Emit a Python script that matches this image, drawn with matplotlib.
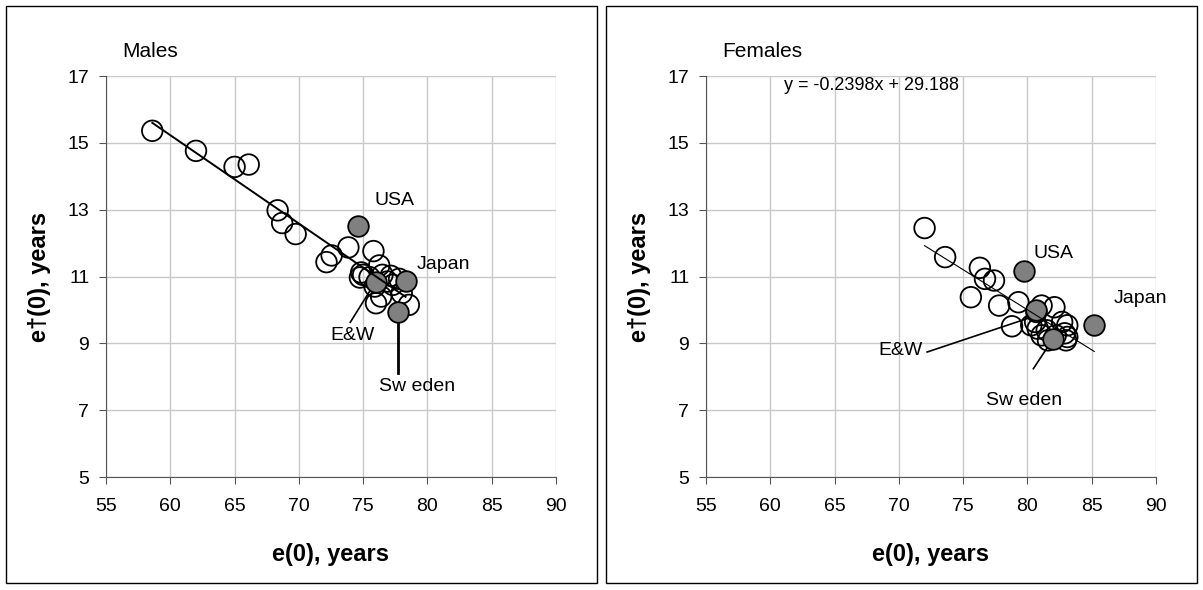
import matplotlib.pyplot as plt
import matplotlib.patches as patches
import numpy as np

plt.rcParams['font.family'] = ['Liberation Sans', 'DejaVu Sans']

# males: e(0) and e-dagger(0)
male_e0 = [58.6, 62.0, 65.0, 66.1, 68.35, 68.7, 69.75, 72.15, 72.55, 73.85,
           75.8, 76.25, 74.85, 74.75, 75.0, 75.5, 76.5, 77.15, 77.8, 77.3,
           75.9, 76.0, 76.4, 78.55, 78.0, 76.9]
male_ed = [15.36, 14.76, 14.28, 14.35, 12.98, 12.6, 12.27, 11.43, 11.63, 11.87,
           11.76, 11.33, 11.12, 10.97, 11.05, 10.98, 11.05, 11.02, 10.93, 10.75,
           10.7, 10.2, 10.4, 10.15, 10.5, 10.85]
male_hl_names = ['USA', 'Japan', 'E&W', 'Sweden']
male_hl_e0 = [74.6, 78.35, 76.0, 77.75]
male_hl_ed = [12.5, 10.88, 10.83, 9.95]

# females
female_e0 = [72.0, 73.6, 76.3, 76.7, 77.4, 75.6, 77.8, 79.3, 78.8, 81.1,
             82.1, 80.6, 80.3, 80.8, 81.5, 82.7, 83.1, 83.1, 83.0, 81.6,
             82.2, 81.1, 80.7, 82.9]
female_ed = [12.45, 11.58, 11.26, 10.93, 10.88, 10.38, 10.13, 10.23, 9.51, 10.13,
             10.08, 9.64, 9.54, 9.44, 9.39, 9.64, 9.54, 9.19, 9.09, 9.09,
             9.24, 9.24, 9.94, 9.3]
female_hl_names = ['USA', 'Japan', 'E&W', 'Sweden']
female_hl_e0 = [79.7, 85.2, 80.7, 82.0]
female_hl_ed = [11.15, 9.54, 9.99, 9.14]
female_slope, female_icpt = -0.2398, 29.188

xticks = [55, 60, 65, 70, 75, 80, 85, 90]
yticks = [5, 7, 9, 11, 13, 15, 17]

fig = plt.figure(figsize=(12.03, 5.9), dpi=100)

# panel frames
for x0 in [6, 606]:
    fig.patches.append(patches.Rectangle((x0 / 1203, 7 / 590), 591 / 1203, 577 / 590,
                                         transform=fig.transFigure, fill=False,
                                         edgecolor='black', linewidth=1))

ax1 = fig.add_axes([106 / 1203, 1 - 477 / 590, 450 / 1203, 401 / 590])
ax2 = fig.add_axes([706 / 1203, 1 - 477 / 590, 450 / 1203, 401 / 590])


def style(ax, title):
    ax.set_xlim(55, 90)
    ax.set_ylim(5, 17)
    ax.set_xticks(xticks)
    ax.set_yticks(yticks)
    ax.grid(True, color='#c8c8c8', linewidth=1)
    ax.set_axisbelow(True)
    for s in ['top', 'right']:
        ax.spines[s].set_visible(False)
    for s in ['left', 'bottom']:
        ax.spines[s].set_color('#555555')
    ax.tick_params(labelsize=14, length=5, color='#555555', pad=7)
    ax.tick_params(axis='x', pad=10)
    ax.set_xlabel('e(0), years', fontsize=17, fontweight='bold', labelpad=20)
    ax.set_ylabel('e\u2020(0), years', fontsize=17, fontweight='bold', labelpad=12)
    ax.text(0.035, 1.06, title, transform=ax.transAxes, fontsize=15, va='center')


def points(ax, e0, ed, he0, hed):
    ax.scatter(e0, ed, s=220, facecolors='none', edgecolors='black', linewidths=1.3, zorder=3)
    ax.scatter(he0, hed, s=220, facecolors='#808080', edgecolors='black', linewidths=1.3, zorder=4)


# Males
style(ax1, 'Males')
all_m_e0 = np.array(male_e0 + male_hl_e0)
all_m_ed = np.array(male_ed + male_hl_ed)
m_slope, m_icpt = np.polyfit(all_m_e0, all_m_ed, 1)
xm = np.array([min(all_m_e0), 78.3])
ax1.plot(xm, m_slope * xm + m_icpt, color='black', linewidth=1.4, zorder=5)
points(ax1, male_e0, male_ed, male_hl_e0, male_hl_ed)
ax1.plot([74.0, 75.9], [9.63, 10.8], color='black', linewidth=1.2, zorder=2)
ax1.plot([male_hl_e0[3], male_hl_e0[3]], [male_hl_ed[3], 8.1], color='black', linewidth=2, zorder=2)
ax1.text(75.9, 13.28, 'USA', fontsize=14, va='center')
ax1.text(79.2, 11.35, 'Japan', fontsize=14, va='center')
ax1.text(74.2, 9.23, 'E&W', fontsize=14, va='center', ha='center')
ax1.text(79.2, 7.71, 'Sw eden', fontsize=14, va='center', ha='center')

# Females
style(ax2, 'Females')
all_f_e0 = np.array(female_e0 + female_hl_e0)
xf = np.array([min(all_f_e0), max(all_f_e0)])
ax2.plot(xf, female_slope * xf + female_icpt, color='black', linewidth=0.8, zorder=5)
points(ax2, female_e0, female_ed, female_hl_e0, female_hl_ed)
ax2.plot([72.2, 80.6], [8.74, 9.82], color='black', linewidth=1.2, zorder=2)
ax2.plot([80.46, female_hl_e0[3]], [8.24, female_hl_ed[3]], color='black', linewidth=1.2, zorder=2)
ax2.text(80.5, 11.7, 'USA', fontsize=14, va='center')
ax2.text(86.7, 10.34, 'Japan', fontsize=14, va='center')
ax2.text(70.15, 8.79, 'E&W', fontsize=14, va='center', ha='center')
ax2.text(79.7, 7.3, 'Sw eden', fontsize=14, va='center', ha='center')
ax2.text(67.9, 16.73, 'y = -0.2398x + 29.188', fontsize=13, va='center', ha='center')

fig.savefig('out.png', dpi=100)
